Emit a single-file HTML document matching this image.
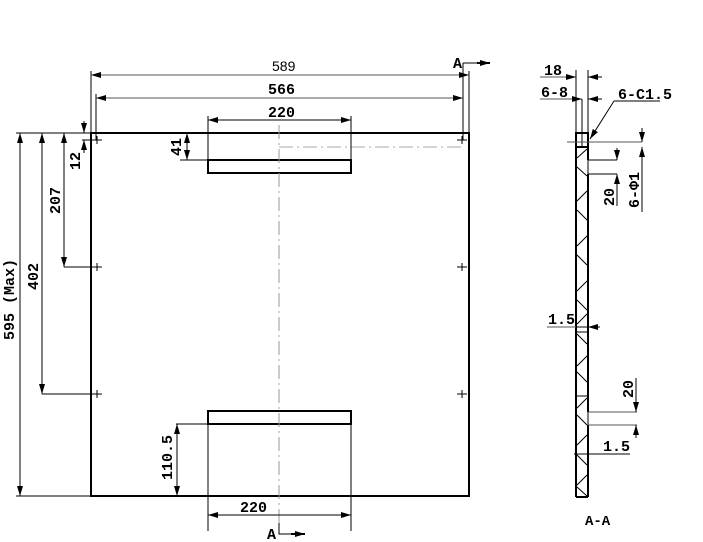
<!DOCTYPE html>
<html><head><meta charset="utf-8"><style>
html,body{margin:0;padding:0;background:#fff}
svg{display:block}
text{font-family:"Liberation Mono","DejaVu Sans Mono",monospace;font-weight:bold;fill:#000}
</style></head><body>
<svg width="703" height="542" viewBox="0 0 703 542" xmlns="http://www.w3.org/2000/svg">
<defs>
<marker id="a" viewBox="0 0 10 6" refX="10" refY="3" markerWidth="10" markerHeight="6" orient="auto-start-reverse" markerUnits="userSpaceOnUse"><path d="M0,0L10,3L0,6z" fill="#000"/></marker>
</defs>
<g fill="none" stroke="#000">
<!-- plate -->
<rect x="91" y="133" width="378" height="363" stroke-width="2"/>
<rect x="208" y="160" width="143" height="13" stroke-width="2"/>
<rect x="208" y="411" width="143" height="13" stroke-width="2"/>
<!-- center lines -->
<line x1="279" y1="125" x2="279" y2="530" stroke="#999" stroke-dasharray="14,4,2,4" stroke-width="1"/>
<line x1="279" y1="147" x2="464" y2="147" stroke="#aaa" stroke-dasharray="14,4,2,4" stroke-width="1"/>
<!-- holes -->
<g stroke-width="1">
<path d="M92 140h10M97 136v8M457 140h10M462 136v8M92 267h10M97 263v8M457 267h10M462 263v8M92 394h10M97 390v8M457 394h10M462 390v8"/>
</g>
<!-- top dims -->
<g stroke-width="1">
<line x1="91" y1="133" x2="91" y2="71"/>
<line x1="469" y1="133" x2="469" y2="71"/>
<line x1="91" y1="75" x2="469" y2="75" marker-start="url(#a)" marker-end="url(#a)" stroke="#555"/>
<line x1="96" y1="140" x2="96" y2="94"/>
<line x1="463" y1="140" x2="463" y2="63"/>
<line x1="96" y1="98" x2="463" y2="98" marker-start="url(#a)" marker-end="url(#a)" stroke="#555"/>
<line x1="208" y1="160" x2="208" y2="116"/>
<line x1="351" y1="160" x2="351" y2="116"/>
<line x1="208" y1="120" x2="351" y2="120" marker-start="url(#a)" marker-end="url(#a)"/>
<line x1="180" y1="160" x2="208" y2="160"/>
<line x1="187" y1="133" x2="187" y2="160" marker-start="url(#a)" marker-end="url(#a)"/>
<!-- A arrows -->
<path d="M463 63h14"/>
<line x1="477" y1="63" x2="490" y2="63" marker-end="url(#a)" stroke-width="2"/>
<path d="M279 523v11h12"/>
<line x1="291" y1="534" x2="305" y2="534" marker-end="url(#a)" stroke-width="2"/>
<!-- left dims -->
<line x1="16" y1="133" x2="91" y2="133"/>
<line x1="20" y1="133" x2="20" y2="496" marker-start="url(#a)" marker-end="url(#a)"/>
<line x1="16" y1="496" x2="91" y2="496"/>
<line x1="42" y1="133" x2="42" y2="394" marker-start="url(#a)" marker-end="url(#a)"/>
<line x1="42" y1="394" x2="97" y2="394"/>
<line x1="64" y1="133" x2="64" y2="267" marker-start="url(#a)" marker-end="url(#a)"/>
<line x1="64" y1="267" x2="97" y2="267"/>
<line x1="84" y1="121" x2="84" y2="133" marker-end="url(#a)"/>
<line x1="84" y1="153" x2="84" y2="140" marker-end="url(#a)"/>
<line x1="82" y1="140" x2="97" y2="140"/>
<!-- bottom dims -->
<line x1="176" y1="424" x2="208" y2="424"/>
<line x1="177" y1="424" x2="177" y2="496" marker-start="url(#a)" marker-end="url(#a)"/>
<line x1="208" y1="424" x2="208" y2="531"/>
<line x1="351" y1="424" x2="351" y2="531"/>
<line x1="208" y1="515" x2="351" y2="515" marker-start="url(#a)" marker-end="url(#a)"/>
</g>
<!-- side view -->
<g stroke-width="2">
<line x1="576" y1="133" x2="576" y2="497"/>
<line x1="588" y1="133" x2="588" y2="160"/>
<line x1="588" y1="174" x2="588" y2="412"/>
<line x1="588" y1="425" x2="588" y2="497"/>
<line x1="576" y1="497" x2="588" y2="497"/>
<rect x="576" y="133" width="12" height="14"/>
</g>
<g stroke-width="1">
<line x1="588" y1="160" x2="588" y2="174"/>
<line x1="588" y1="412" x2="588" y2="425"/>
<line x1="576" y1="332" x2="588" y2="332"/>
<line x1="576" y1="396" x2="588" y2="396"/>
<path d="M587 149L577 158M577 167L587 176M587 191L577 201M577 210L587 220M587 236L577 246M577 255L587 265M587 281L577 291M577 300L587 310M587 314L577 324M577 334L587 344M587 356L577 366M577 372L587 382M587 398L577 408M577 415L587 425M587 435L577 445M577 455L587 465M587 475L577 485M577 487L587 496"/>
<!-- 18 / 6-8 -->
<line x1="540" y1="77" x2="576" y2="77" marker-end="url(#a)" stroke="#555"/>
<line x1="602" y1="77" x2="588" y2="77" marker-end="url(#a)"/>
<line x1="576" y1="70" x2="576" y2="133"/>
<line x1="588" y1="70" x2="588" y2="133"/>
<line x1="540" y1="99" x2="582" y2="99" marker-end="url(#a)" stroke="#555"/>
<line x1="602" y1="99" x2="588" y2="99" marker-end="url(#a)"/>
<line x1="582" y1="99" x2="582" y2="147"/>
<path d="M614 101L590 139" marker-end="url(#a)"/>
<line x1="614" y1="101" x2="660" y2="101"/>
<line x1="567" y1="142" x2="642" y2="142" stroke="#555"/>
<line x1="642" y1="128" x2="642" y2="142" marker-end="url(#a)"/>
<line x1="642" y1="212" x2="642" y2="147" marker-end="url(#a)"/>
<line x1="588" y1="160" x2="617" y2="160"/>
<line x1="588" y1="174" x2="617" y2="174"/>
<line x1="617" y1="148" x2="617" y2="160" marker-end="url(#a)"/>
<line x1="617" y1="206" x2="617" y2="174" marker-end="url(#a)"/>
<!-- 1.5 upper -->
<line x1="547" y1="327" x2="576" y2="327" stroke="#555"/>
<line x1="600" y1="327" x2="588" y2="327" marker-end="url(#a)"/>
<line x1="576" y1="327" x2="588" y2="327"/>
<!-- lower 20 -->
<line x1="588" y1="412" x2="637" y2="412" stroke="#555"/>
<line x1="588" y1="425" x2="637" y2="425" stroke="#555"/>
<line x1="636" y1="378" x2="636" y2="412" marker-end="url(#a)"/>
<line x1="636" y1="438" x2="636" y2="425" marker-end="url(#a)"/>
<!-- lower 1.5 -->
<line x1="574" y1="454" x2="630" y2="454"/>
</g>
</g>
<!-- texts -->
<text x="272" y="71" font-size="14" font-weight="normal" style="font-family:'Liberation Sans',sans-serif;font-weight:normal">589</text>
<text x="268" y="94" font-size="15">566</text>
<text x="268" y="117" font-size="15">220</text>
<text x="453" y="68" font-size="15">A</text>
<text x="267" y="539" font-size="15">A</text>
<text x="240" y="512" font-size="15">220</text>
<text x="585" y="525" font-size="14">A-A</text>
<text x="544" y="75" font-size="15">18</text>
<text x="541" y="97" font-size="15">6-8</text>
<text x="618" y="99" font-size="15">6-C1.5</text>
<text x="548" y="324" font-size="15">1.5</text>
<text x="603" y="451" font-size="15">1.5</text>
<text transform="translate(181,156) rotate(-90)" font-size="15">41</text>
<text transform="translate(80,170) rotate(-90)" font-size="15">12</text>
<text transform="translate(60,214) rotate(-90)" font-size="15">207</text>
<text transform="translate(38,290) rotate(-90)" font-size="15">402</text>
<text transform="translate(14,340) rotate(-90)" font-size="15">595 (Max)</text>
<text transform="translate(172,480) rotate(-90)" font-size="15">110.5</text>
<text transform="translate(614,206) rotate(-90)" font-size="15">20</text>
<text transform="translate(639,208) rotate(-90)" font-size="15">6-Φ1</text>
<text transform="translate(633,398) rotate(-90)" font-size="15">20</text>
</svg>
</body></html>
